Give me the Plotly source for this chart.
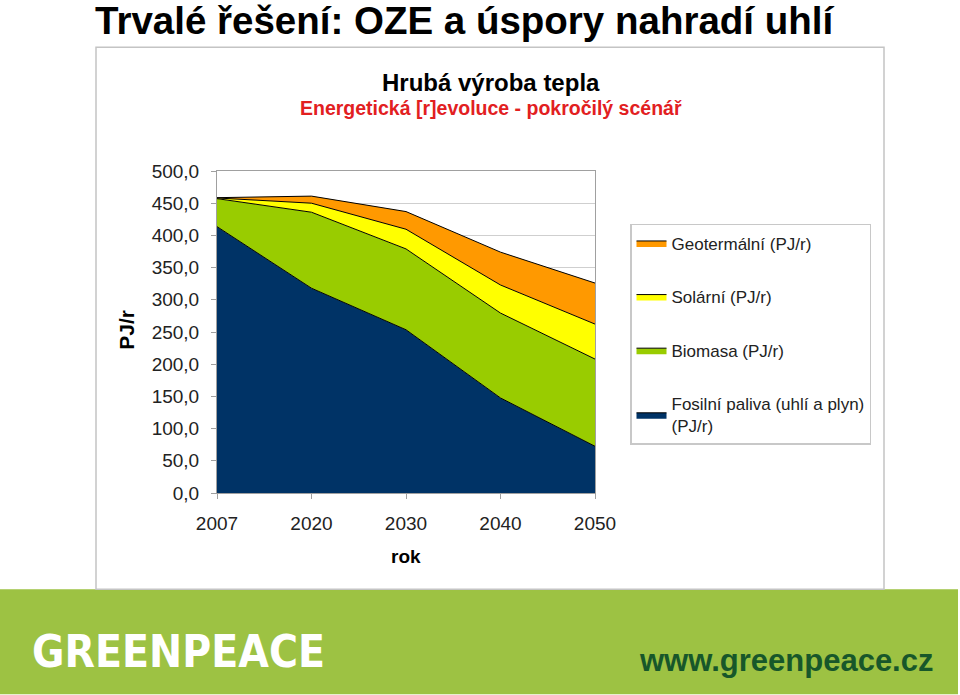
import plotly.graph_objects as go

years = ["2007", "2020", "2030", "2040", "2050"]
fosilni = [413.6, 318.0, 253.5, 147.6, 72.6]
biomasa = [43.5, 118.0, 125.5, 131.8, 135.4]
solarni = [1.0, 14.0, 30.6, 43.6, 54.3]
geotermalni = [0.5, 11.0, 27.4, 51.0, 63.7]
y_ticks = [0, 50, 100, 150, 200, 250, 300, 350, 400, 450, 500]

series = [
    ("Fosilní paliva (uhlí a plyn)<br>(PJ/r)", fosilni, "#003366"),
    ("Biomasa (PJ/r)", biomasa, "#99cc00"),
    ("Solární (PJ/r)", solarni, "#ffff00"),
    ("Geotermální (PJ/r)", geotermalni, "#ff9900"),
]

W, H = 960, 695
L, R, T, B = 217, 595, 171, 493.5
PW, PH = R - L, B - T

def px(x):
    return (x - L) / PW

def py(y):
    return (B - y) / PH

FONT = "Liberation Sans, Arial, sans-serif"

fig = go.Figure()
xs = list(range(len(years)))
n = len(series)
for i, (name, vals, col) in enumerate(series):
    fig.add_trace(go.Scatter(
        x=xs, y=vals, name=name, mode="lines", stackgroup="one",
        line=dict(color="black", width=1), fillcolor=col,
        legendgroup=str(i), legendrank=n - i, hoverinfo="skip",
    ))

fig.update_layout(
    width=W, height=H,
    margin=dict(l=L, r=W - R, t=T, b=H - B),
    paper_bgcolor="white", plot_bgcolor="white",
    separators=", ",
    font=dict(family=FONT, size=17, color="#222"),
    showlegend=True,
    legend=dict(
        x=px(630), y=py(224), xanchor="left", yanchor="top",
        traceorder="grouped", tracegroupgap=28.5,
        bordercolor="#c8c8c8", borderwidth=1.5, bgcolor="white",
        font=dict(family=FONT, size=17, color="#222"),
        itemwidth=30,
    ),
    xaxis=dict(
        range=[0, 4], tickvals=xs, ticktext=years,
        ticks="outside", ticklen=5, tickcolor="#a0a0a0",
        showline=True, linecolor="#a0a0a0", linewidth=1, mirror=True,
        showgrid=False, zeroline=False, ticklabelstandoff=8,
        tickfont=dict(size=19, color="#222"),
    ),
    yaxis=dict(
        range=[0, 500], tickvals=y_ticks, tickformat=".1f",
        ticks="outside", ticklen=5, tickcolor="#a0a0a0",
        showline=True, linecolor="#a0a0a0", linewidth=1, mirror=True,
        showgrid=True, gridcolor="#cfcfcf", gridwidth=1, zeroline=False,
        ticklabelstandoff=8,
        tickfont=dict(size=19, color="#222"),
    ),
)

shapes = [
    dict(type="rect", xref="paper", yref="paper",
         x0=px(0), x1=px(958), y0=py(590), y1=py(695),
         fillcolor="#9dc243", line=dict(width=0), layer="below"),
    dict(type="rect", xref="paper", yref="paper",
         x0=px(96), x1=px(884), y0=py(590), y1=py(47),
         fillcolor="rgba(0,0,0,0)", line=dict(color="#c4c4c4", width=1.5), layer="below"),
]
fig.update_layout(shapes=shapes)

ann = [
    dict(text="<b>Trvalé řešení: OZE a úspory nahradí uhlí</b>", x=px(93), y=py(20),
         xanchor="left", yanchor="middle",
         font=dict(family="Liberation Sans, Arial", size=38.5, color="black")),
    dict(text="<b>Hrubá výroba tepla</b>", x=px(491), y=py(82), xanchor="center", yanchor="middle",
         font=dict(family=FONT, size=24, color="black")),
    dict(text="<b>Energetická [r]evoluce - pokročilý scénář</b>", x=px(491), y=py(108),
         xanchor="center", yanchor="middle", font=dict(family=FONT, size=19.5, color="#e2201f")),
    dict(text="<b>PJ/r</b>", x=px(127), y=py(330), xanchor="center", yanchor="middle",
         textangle=-90, font=dict(family=FONT, size=21, color="black")),
    dict(text="<b>rok</b>", x=px(406), y=py(557), xanchor="center", yanchor="middle",
         font=dict(family=FONT, size=19, color="black")),
    dict(text="<b>GREENPEACE</b>", x=px(30), y=py(652), xanchor="left", yanchor="middle",
         font=dict(family="DejaVu Sans Condensed, DejaVu Sans, sans-serif", size=44, color="white")),
    dict(text="<b>www.greenpeace.cz</b>", x=px(935), y=py(661), xanchor="right", yanchor="middle",
         font=dict(family=FONT, size=31, color="#17572a")),
]
for a in ann:
    a.update(xref="paper", yref="paper", showarrow=False)
fig.update_layout(annotations=ann)

fig.write_html("out.html")
